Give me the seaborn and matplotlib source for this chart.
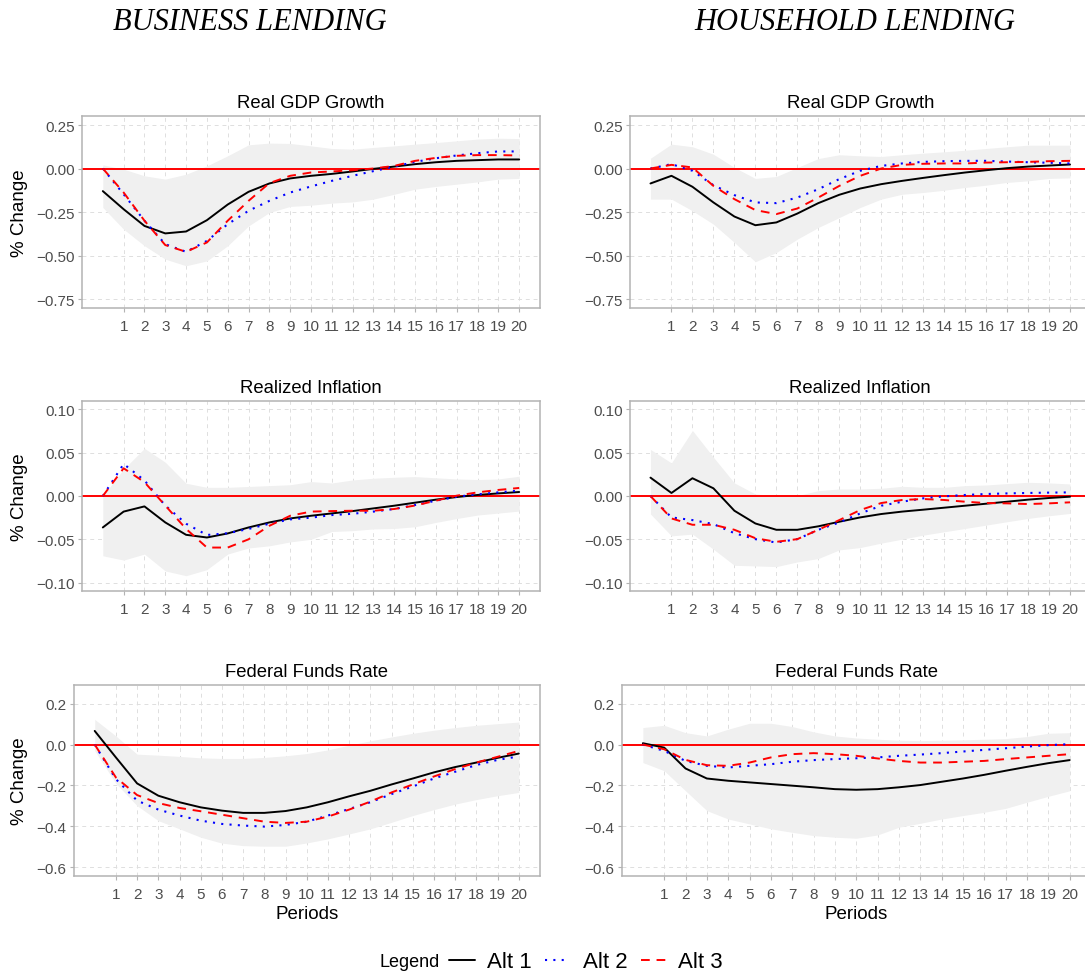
import numpy as np
import pandas as pd
import matplotlib
matplotlib.use("Agg")
import matplotlib.pyplot as plt
import seaborn as sns

# %% data
periods = list(range(21))
tick_periods = list(range(1, 21))

# Business lending - Real GDP Growth
gdp_bus_alt1 = [-0.13, -0.234, -0.33, -0.373, -0.362, -0.297, -0.207, -0.134, -0.086, -0.057, -0.042,
                -0.031, -0.017, -0.002, 0.011, 0.025, 0.036, 0.044, 0.048, 0.052, 0.052]
gdp_bus_alt2 = [0.0, -0.148, -0.30, -0.435, -0.479, -0.416, -0.32, -0.243, -0.186, -0.138, -0.103,
                -0.071, -0.042, -0.015, 0.011, 0.038, 0.059, 0.075, 0.088, 0.098, 0.098]
gdp_bus_alt3 = [0.0, -0.138, -0.30, -0.44, -0.479, -0.425, -0.30, -0.186, -0.084, -0.042, -0.023,
                -0.017, -0.010, 0.0, 0.015, 0.044, 0.061, 0.073, 0.077, 0.077, 0.075]
gdp_bus_upper = [0.021, -0.004, -0.042, -0.061, -0.033, 0.015, 0.073, 0.136, 0.146, 0.144, 0.130,
                 0.115, 0.111, 0.121, 0.130, 0.140, 0.149, 0.159, 0.169, 0.174, 0.172]
gdp_bus_lower = [-0.224, -0.349, -0.444, -0.521, -0.559, -0.531, -0.444, -0.33, -0.253, -0.218, -0.211,
                 -0.199, -0.192, -0.176, -0.148, -0.119, -0.103, -0.09, -0.077, -0.061, -0.057]

# Household lending - Real GDP Growth
gdp_hh_alt1 = [-0.086, -0.042, -0.105, -0.195, -0.276, -0.326, -0.31, -0.259, -0.199, -0.151, -0.115,
               -0.09, -0.071, -0.054, -0.038, -0.023, -0.010, 0.002, 0.011, 0.017, 0.023]
gdp_hh_alt2 = [0.0, 0.025, -0.013, -0.096, -0.153, -0.195, -0.199, -0.167, -0.119, -0.061, -0.013,
               0.015, 0.029, 0.038, 0.042, 0.044, 0.044, 0.040, 0.036, 0.033, 0.029]
gdp_hh_alt3 = [0.0, 0.021, 0.006, -0.10, -0.176, -0.239, -0.262, -0.23, -0.167, -0.10, -0.042,
               0.0, 0.021, 0.027, 0.029, 0.029, 0.034, 0.036, 0.038, 0.042, 0.044]
gdp_hh_upper = [0.059, 0.14, 0.125, 0.082, 0.006, -0.057, -0.046, 0.006, 0.057, 0.079, 0.073,
                0.069, 0.079, 0.088, 0.096, 0.105, 0.115, 0.125, 0.134, 0.134, 0.134]
gdp_hh_lower = [-0.176, -0.176, -0.243, -0.32, -0.425, -0.536, -0.483, -0.406, -0.339, -0.282, -0.224,
                -0.176, -0.148, -0.138, -0.125, -0.109, -0.096, -0.08, -0.071, -0.057, -0.054]

# Business lending - Realized Inflation
inf_bus_alt1 = [-0.0363, -0.018, -0.012, -0.0305, -0.0448, -0.0479, -0.0432, -0.0363, -0.0305, -0.0259,
                -0.0228, -0.0201, -0.0174, -0.0143, -0.0112, -0.0077, -0.0042, -0.0012, 0.0012, 0.003, 0.0046]
inf_bus_alt2 = [0.0, 0.037, 0.018, -0.011, -0.032, -0.045, -0.043, -0.038, -0.032, -0.027,
                -0.025, -0.022, -0.0205, -0.018, -0.015, -0.0104, -0.0054, -0.0008, 0.0019, 0.0042, 0.0062]
inf_bus_alt3 = [0.0, 0.032, 0.016, -0.011, -0.038, -0.0595, -0.0595, -0.05, -0.0344, -0.0228,
                -0.018, -0.0174, -0.017, -0.017, -0.015, -0.011, -0.0054, 0.0004, 0.0042, 0.007, 0.0093]
inf_bus_upper = [0.0, 0.031, 0.055, 0.039, 0.0147, 0.010, 0.010, 0.011, 0.012, 0.013,
                 0.0166, 0.015, 0.0185, 0.0205, 0.0216, 0.0224, 0.021, 0.0197, 0.019, 0.0197, 0.0228]
inf_bus_lower = [-0.069, -0.074, -0.067, -0.0865, -0.092, -0.085, -0.067, -0.06, -0.0575, -0.053,
                 -0.05, -0.041, -0.04, -0.038, -0.0375, -0.0355, -0.0305, -0.026, -0.022, -0.0197, -0.0174]

# Household lending - Realized Inflation
inf_hh_alt1 = [0.0212, 0.0035, 0.0205, 0.0089, -0.017, -0.0317, -0.039, -0.039, -0.035, -0.0297,
               -0.0247, -0.0208, -0.018, -0.0158, -0.0135, -0.0112, -0.0089, -0.0066, -0.0042, -0.0023, -0.0008]
inf_hh_alt2 = [0.0, -0.0247, -0.0278, -0.0324, -0.0429, -0.0498, -0.0537, -0.0498, -0.039, -0.0305,
               -0.0201, -0.0112, -0.0066, -0.0027, -0.0004, 0.0012, 0.0023, 0.003, 0.0035, 0.0039, 0.0042]
inf_hh_alt3 = [0.0, -0.0259, -0.0332, -0.0332, -0.039, -0.0487, -0.0529, -0.0498, -0.039, -0.0278,
               -0.0162, -0.0081, -0.0046, -0.0035, -0.0046, -0.0066, -0.0081, -0.0085, -0.0093, -0.0085, -0.0073]
inf_hh_upper = [0.0537, 0.0382, 0.0757, 0.0448, 0.0151, 0.0023, 0.0004, 0.0004, 0.0062, 0.0081,
                0.0081, 0.0089, 0.0112, 0.010, 0.010, 0.012, 0.0127, 0.0143, 0.0158, 0.0151, 0.0139]
inf_hh_lower = [-0.0208, -0.046, -0.044, -0.0614, -0.080, -0.0807, -0.0815, -0.0761, -0.0722, -0.0622,
                -0.0595, -0.0544, -0.0498, -0.0452, -0.0413, -0.0375, -0.0336, -0.0297, -0.0259, -0.0228, -0.0201]

# Business lending - Federal Funds Rate
ffr_bus_alt1 = [0.0666, -0.063, -0.19, -0.25, -0.282, -0.307, -0.323, -0.334, -0.334, -0.325, -0.307,
                -0.282, -0.253, -0.226, -0.195, -0.166, -0.136, -0.11, -0.088, -0.065, -0.044]
ffr_bus_alt2 = [0.0, -0.169, -0.274, -0.318, -0.347, -0.372, -0.388, -0.396, -0.401, -0.393, -0.377,
                -0.347, -0.315, -0.282, -0.242, -0.205, -0.166, -0.133, -0.10, -0.075, -0.058]
ffr_bus_alt3 = [0.0, -0.161, -0.247, -0.286, -0.31, -0.326, -0.343, -0.36, -0.377, -0.383, -0.377,
                -0.352, -0.318, -0.279, -0.234, -0.195, -0.156, -0.12, -0.088, -0.06, -0.031]
ffr_bus_upper = [0.123, 0.042, -0.047, -0.052, -0.058, -0.065, -0.068, -0.068, -0.063, -0.055, -0.044,
                 -0.026, -0.003, 0.018, 0.037, 0.055, 0.07, 0.083, 0.094, 0.102, 0.11]
ffr_bus_lower = [-0.03, -0.19, -0.299, -0.372, -0.412, -0.453, -0.482, -0.494, -0.497, -0.497, -0.481,
                 -0.461, -0.437, -0.412, -0.38, -0.347, -0.318, -0.291, -0.269, -0.25, -0.234]

# Household lending - Federal Funds Rate
ffr_hh_alt1 = [0.0065, -0.015, -0.117, -0.166, -0.177, -0.185, -0.193, -0.201, -0.209, -0.218, -0.221,
               -0.218, -0.209, -0.198, -0.182, -0.166, -0.148, -0.128, -0.109, -0.091, -0.076]
ffr_hh_alt2 = [0.0, -0.031, -0.08, -0.104, -0.112, -0.104, -0.096, -0.084, -0.076, -0.071, -0.067,
               -0.063, -0.055, -0.049, -0.042, -0.034, -0.026, -0.018, -0.010, -0.003, 0.002]
ffr_hh_alt3 = [0.0, -0.023, -0.075, -0.101, -0.104, -0.088, -0.063, -0.047, -0.042, -0.047, -0.055,
               -0.068, -0.08, -0.088, -0.088, -0.084, -0.08, -0.071, -0.063, -0.055, -0.047]
ffr_hh_upper = [0.083, 0.094, 0.058, 0.042, 0.075, 0.104, 0.104, 0.088, 0.062, 0.042, 0.032,
                0.026, 0.021, 0.019, 0.021, 0.023, 0.026, 0.029, 0.039, 0.055, 0.058]
ffr_hh_lower = [-0.088, -0.128, -0.226, -0.323, -0.364, -0.388, -0.412, -0.429, -0.445, -0.453, -0.458,
                -0.442, -0.404, -0.385, -0.364, -0.347, -0.331, -0.312, -0.282, -0.253, -0.226]

panel_titles = ["Real GDP Growth", "Realized Inflation", "Federal Funds Rate"]
column_titles = ["BUSINESS LENDING", "HOUSEHOLD LENDING"]
series_names = ["Alt 1", "Alt 2", "Alt 3"]

panels = [
    [(gdp_bus_alt1, gdp_bus_alt2, gdp_bus_alt3, gdp_bus_lower, gdp_bus_upper),
     (gdp_hh_alt1, gdp_hh_alt2, gdp_hh_alt3, gdp_hh_lower, gdp_hh_upper)],
    [(inf_bus_alt1, inf_bus_alt2, inf_bus_alt3, inf_bus_lower, inf_bus_upper),
     (inf_hh_alt1, inf_hh_alt2, inf_hh_alt3, inf_hh_lower, inf_hh_upper)],
    [(ffr_bus_alt1, ffr_bus_alt2, ffr_bus_alt3, ffr_bus_lower, ffr_bus_upper),
     (ffr_hh_alt1, ffr_hh_alt2, ffr_hh_alt3, ffr_hh_lower, ffr_hh_upper)],
]

row_ticks = [[0.25, 0.0, -0.25, -0.5, -0.75], [0.10, 0.05, 0.0, -0.05, -0.10], [0.2, 0.0, -0.2, -0.4, -0.6]]
row_ticklabels = [["0.25", "0.00", "\u22120.25", "\u22120.50", "\u22120.75"],
                  ["0.10", "0.05", "0.00", "\u22120.05", "\u22120.10"],
                  ["0.2", "0.0", "\u22120.2", "\u22120.4", "\u22120.6"]]
row_ylim = [(-0.80, 0.30), (-0.11, 0.11), (-0.6425, 0.2925)]

# %% style
sns.set_theme(style="whitegrid")
plt.rcParams['font.family'] = ['Liberation Sans', 'DejaVu Sans']

W, H = 1085, 978
fig = plt.figure(figsize=(W / 100, H / 100), dpi=100)
fig.patch.set_facecolor("white")


def rect(x0, x1, y0, y1):
    return [x0 / W, 1 - y1 / H, (x1 - x0) / W, (y1 - y0) / H]


# panel edges in pixels (left, right) per row/col; ggplot widens the panels with short tick labels
col_edges = [[(82, 540), (82, 540), (73.5, 540)],
             [(629.5, 1091), (629.5, 1091), (621.5, 1091)]]
row_edges = [(117.3, 308.7), (401.7, 592.3), (685.7, 877)]

line_styles = [
    dict(color="black", linestyle="-", lw=1.4),
    dict(color="blue", linestyle=(0, (1, 3)), lw=1.5),
    dict(color="red", linestyle=(0, (4.5, 3.5)), lw=1.4),
]

legend_handles = None
for r in range(3):
    for c in range(2):
        x0, x1 = col_edges[c][r]
        y0, y1 = row_edges[r]
        ax = fig.add_axes(rect(x0, x1, y0, y1))
        alt1, alt2, alt3, lower, upper = panels[r][c]
        ax.fill_between(periods, lower, upper, color="#f0f0f0", lw=0, zorder=1)
        ax.axhline(0, color="red", lw=1.4, zorder=2)
        for vals, name, st in zip([alt1, alt2, alt3], series_names, line_styles):
            sns.lineplot(x=periods, y=vals, ax=ax, label=name, zorder=3, **st)
        if legend_handles is None:
            legend_handles = ax.get_legend_handles_labels()
        ax.get_legend().remove()

        ax.set_xlim(-1, 21)
        ax.set_ylim(*row_ylim[r])
        ax.set_xticks(tick_periods)
        ax.set_xticklabels([str(p) for p in tick_periods])
        ax.set_yticks(row_ticks[r])
        ax.set_yticklabels(row_ticklabels[r])
        ax.grid(True, color="#dedede", linestyle=(0, (4, 4)), lw=0.7)
        ax.set_axisbelow(True)
        for sp in ax.spines.values():
            sp.set_color("#b3b3b3")
            sp.set_linewidth(1.1)
        ax.tick_params(axis="both", labelsize=11, labelcolor="#4d4d4d", length=3, width=0.8,
                       color="#b3b3b3", left=True, bottom=True)
        ax.tick_params(axis="x", pad=5)
        ax.tick_params(axis="y", pad=2)
        ax.set_title(panel_titles[r], fontsize=13.3, color="black", pad=6.5)
        ax.set_xlabel("")
        ax.set_ylabel("")

        xc = (x0 + x1) / 2
        if c == 0:
            fig.text(20 / W, 1 - (y0 + y1) / 2 / H, "% Change", rotation=90, fontsize=13.5,
                     color="black", ha="center", va="center")
        if r == 2:
            fig.text(xc / W, 1 - 919 / H, "Periods", fontsize=13.5, color="black",
                     ha="center", va="baseline")

for xc, title in zip([250, 855], column_titles):
    fig.text(xc / W, 1 - 30 / H, title, fontsize=22, style="italic", color="black",
             family=["Liberation Serif", "DejaVu Serif"], ha="center", va="baseline")

fig.text(410 / W, 1 - 963 / H, "Legend", fontsize=13, color="black", ha="center", va="center")
handles, labels = legend_handles
leg = fig.legend(handles, labels, loc="center", bbox_to_anchor=(586 / W, 1 - 963 / H), ncol=3,
                 frameon=False, fontsize=16, handlelength=1.15, handletextpad=0.55,
                 columnspacing=0.6, borderpad=0, borderaxespad=0)
for t in leg.get_texts():
    t.set_color("black")

fig.savefig("out.png", dpi=100, facecolor="white")
